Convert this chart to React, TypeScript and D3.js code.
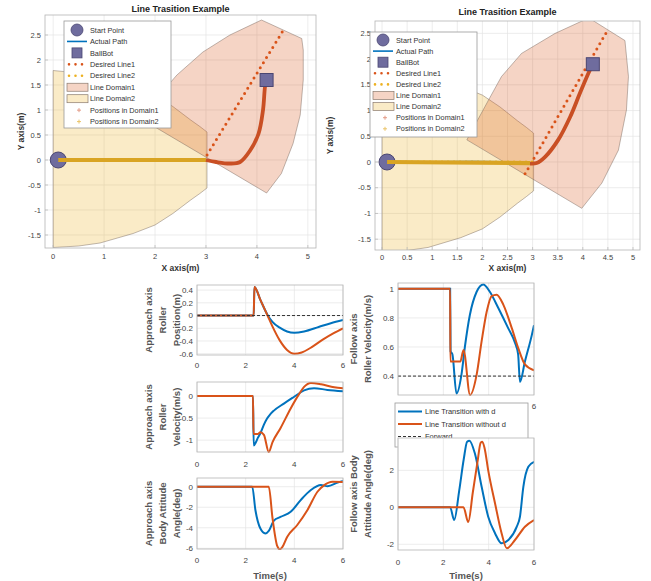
import React from "react";
import * as d3 from "d3";

type Pt = [number, number];

const FONT = "'Liberation Sans', Arial, Helvetica, sans-serif";

// ---------------- top plots ----------------
const topTitle = "Line Trasition Example";
const legendLabels = [
  "Start Point",
  "Actual Path",
  "BallBot",
  "Desired Line1",
  "Desired Line2",
  "Line Domain1",
  "Line Domain2",
  "Positions in Domain1",
  "Positions in Domain2",
];
const xTicksLeft = [0, 1, 2, 3, 4, 5];
const xTicksRight = [0, 0.5, 1, 1.5, 2, 2.5, 3, 3.5, 4, 4.5, 5];
const yTicksTop = [-1.5, -1, -0.5, 0, 0.5, 1, 1.5, 2, 2.5];

const domain2Poly: Pt[] = [
  [0, -1.75], [0, 1.79], [0.5, 1.74], [0.92, 1.66], [1.57, 1.47], [2.0, 1.3],
  [2.35, 1.07], [2.7, 0.8], [2.88, 0.67], [3.02, 0.56], [3.02, -0.56],
  [2.88, -0.67], [2.7, -0.8], [2.35, -1.07], [2.0, -1.3], [1.57, -1.47],
  [0.92, -1.66], [0.5, -1.72],
];
const domain1Left: Pt[] = [
  [4.19, -0.66], [4.48, -0.27], [4.71, 0.33], [4.85, 0.9], [4.91, 1.6],
  [4.91, 2.2], [4.88, 2.43], [4.09, 2.8], [3.47, 2.5], [2.94, 2.16],
  [2.43, 1.7], [2.01, 1.21], [1.8, 0.78],
];
const domain1Right: Pt[] = [
  [3.98, -0.9], [4.38, -0.41], [4.71, 0.23], [4.87, 1.01], [4.91, 1.66],
  [4.84, 2.36], [4.12, 2.8], [3.45, 2.5], [2.78, 2.11], [2.38, 1.66],
  [2.12, 1.2], [1.69, 0.43],
];
const desiredLine1Left: Pt[] = [[2.96, 0], [4.55, 2.65]];
const desiredLine1Right: Pt[] = [[2.85, -0.23], [4.5, 2.57]];
const desiredLine2: Pt[] = [[0, 0], [3, 0]];
const positionsD2Left: Pt[] = [[0.1, 0], [3.0, 0]];
const positionsD1Left: Pt[] = [
  [3.0, 0.0], [3.2, -0.04], [3.47, -0.07], [3.67, -0.04], [3.86, 0.18],
  [4.03, 0.52], [4.12, 1.0], [4.16, 1.47], [4.19, 1.6],
];
const positionsD2Right: Pt[] = [[0.1, 0], [2.95, -0.02]];
const positionsD1Right: Pt[] = [
  [2.95, -0.03], [3.08, -0.02], [3.25, 0.1], [3.51, 0.43], [3.75, 0.88],
  [3.94, 1.33], [4.11, 1.72], [4.2, 1.9],
];
const startPoint: Pt = [0.1, 0];
const ballbotLeft: Pt = [4.19, 1.6];
const ballbotRight: Pt = [4.2, 1.9];

// ---------------- bottom plots ----------------
const timeTicks = [0, 2, 4, 6];
const followVelTimeTicks = [6]; // the others are hidden under the legend
const approachPosWith: Pt[] = [
  [0, 0], [2.33, 0], [2.36, 0.45], [2.6, 0.25], [2.9, 0.01], [3.1, -0.1],
  [3.4, -0.19], [3.7, -0.25], [4.0, -0.27], [4.4, -0.25], [5.0, -0.18],
  [5.5, -0.12], [6.0, -0.07],
];
const approachPosWithout: Pt[] = [
  [0, 0], [2.33, 0], [2.36, 0.45], [2.6, 0.25], [2.9, 0.0], [3.1, -0.17],
  [3.4, -0.39], [3.7, -0.54], [4.0, -0.6], [4.3, -0.58], [4.7, -0.5],
  [5.2, -0.37], [5.6, -0.28], [6.0, -0.2],
];
const approachVelWith: Pt[] = [
  [0, 0], [2.3, 0], [2.33, -1.12], [2.42, -1.05], [2.5, -0.95], [2.6, -0.85],
  [2.75, -0.65], [2.88, -0.51], [3.0, -0.42], [3.16, -0.33], [3.57, -0.17],
  [3.98, -0.02], [4.4, 0.13], [4.81, 0.18], [5.36, 0.14], [6, 0.11],
];
const approachVelWithout: Pt[] = [
  [0, 0], [2.3, 0], [2.32, -0.86], [2.5, -0.86], [2.6, -0.82], [2.75, -0.88],
  [2.95, -1.27], [3.1, -1.05], [3.43, -0.73], [3.85, -0.28], [4.2, 0.05],
  [4.4, 0.21], [4.68, 0.3], [5.1, 0.27], [5.64, 0.2], [6, 0.18],
];
const approachAttWith: Pt[] = [
  [0, 0], [2.27, 0], [2.4, -2.27], [2.6, -4.05], [2.81, -4.55], [2.95, -4.3],
  [3.16, -3.3], [3.43, -2.95], [3.85, -2.45], [4.26, -1.3], [4.68, -0.32],
  [5.09, 0.17], [5.37, 0.05], [5.78, 0.4], [6, 0.55],
];
const approachAttWithout: Pt[] = [
  [0, 0], [2.95, 0], [3.1, -3.0], [3.3, -5.8], [3.4, -6.1], [3.5, -5.9],
  [3.71, -4.87], [4.12, -3.73], [4.54, -2.27], [4.95, -0.49], [5.23, 0.16],
  [5.57, 0.49], [6, 0.45],
];
const followVelWith: Pt[] = [
  [0, 1], [2.3, 1], [2.32, 0.57], [2.4, 0.55], [2.58, 0.28], [2.8, 0.41],
  [2.95, 0.6], [3.17, 0.82], [3.47, 0.98], [3.76, 1.03], [4.05, 0.98],
  [4.42, 0.87], [4.86, 0.73], [5.16, 0.63], [5.3, 0.55], [5.38, 0.36],
  [5.6, 0.5], [5.9, 0.68], [6, 0.75],
];
const followVelWithout: Pt[] = [
  [0, 1], [2.3, 1], [2.31, 0.5], [2.75, 0.5], [2.89, 0.58], [3.18, 0.27],
  [3.47, 0.41], [3.69, 0.64], [3.91, 0.84], [4.13, 0.95], [4.35, 0.96],
  [4.65, 0.89], [5.02, 0.73], [5.31, 0.59], [5.6, 0.48], [6, 0.44],
];
const followAttWith: Pt[] = [
  [0, 0], [2.3, 0], [2.48, -0.69], [2.7, 0.9], [2.9, 2.6], [3.05, 3.55],
  [3.15, 3.6], [3.39, 2.92], [3.69, 1.11], [3.98, -0.51], [4.28, -1.4],
  [4.57, -1.95], [4.87, -1.77], [5.24, -1.05], [5.38, -0.51], [5.53, 1.11],
  [5.75, 2.19], [6, 2.46],
];
const followAttWithout: Pt[] = [
  [0, 0], [2.89, 0], [3.1, -0.8], [3.3, 0.8], [3.5, 2.4], [3.65, 3.5],
  [3.72, 3.55], [3.82, 3.2], [3.98, 2.0], [4.28, 0.22], [4.57, -1.4],
  [4.8, -2.22], [5.16, -1.77], [5.6, -1.05], [6, -0.69],
];
const approachPosRef: Pt[] = [[0, 0], [6, 0]];
const followVelRef: Pt[] = [[0, 0.4], [6, 0.4]];
const bottomLegend = ["Line Transition with d", "Line Transition without d", "Forward"];

const BLUE = "#0072BD";
const ORANGE = "#D95319";
const YELLOW = "#EDB120";
const PURPLE = "#6f6c9e";
const PURPLE_EDGE = "#4a4672";
const TICK = "#444";
const GRID = "#e4e4e4";
const BOX = "#b4b4b4";

interface TopCfg {
  id: string;
  l: number; r: number; t: number; b: number;
  xDom: [number, number]; yDom: [number, number];
  xTicks: number[];
  domain1: Pt[]; line1: Pt[]; posD2: Pt[]; posD1: Pt[]; ballbot: Pt;
  leg: { x: number; y: number; w: number; h: number; y0: number; dy: number };
  titleY: number; xlabY: number; ylabX: number; xtY: number;
}

function TopPlot({ c }: { c: TopCfg }) {
  const x = d3.scaleLinear().domain(c.xDom).range([c.l, c.r]);
  const y = d3.scaleLinear().domain(c.yDom).range([c.b, c.t]);
  const poly = (p: Pt[]) => "M" + p.map((d) => `${x(d[0])},${y(d[1])}`).join("L") + "Z";
  const ln = d3.line<Pt>().x((d) => x(d[0])).y((d) => y(d[1]));
  const sm = d3.line<Pt>().x((d) => x(d[0])).y((d) => y(d[1])).curve(d3.curveCatmullRom);
  const actual: Pt[] = [...c.posD2, ...c.posD1];
  const cx = (c.l + c.r) / 2;
  const cy = (c.t + c.b) / 2;
  const L = c.leg;
  const ix = L.x + 3;
  return (
    <g>
      <defs>
        <clipPath id={c.id}>
          <rect x={c.l} y={c.t} width={c.r - c.l} height={c.b - c.t} />
        </clipPath>
      </defs>
      <rect x={c.l} y={c.t} width={c.r - c.l} height={c.b - c.t} fill="#fff" />
      {c.xTicks.map((v) => (
        <line key={"gx" + v} x1={x(v)} x2={x(v)} y1={c.t} y2={c.b} stroke={GRID} strokeWidth={0.7} />
      ))}
      {yTicksTop.map((v) => (
        <line key={"gy" + v} x1={c.l} x2={c.r} y1={y(v)} y2={y(v)} stroke={GRID} strokeWidth={0.7} />
      ))}
      <g clipPath={`url(#${c.id})`}>
        <path d={poly(domain2Poly)} fill={YELLOW} fillOpacity={0.25} stroke="#6e5f55" strokeOpacity={0.55} strokeWidth={0.8} />
        <path d={poly(c.domain1)} fill={ORANGE} fillOpacity={0.25} stroke="#6e5f55" strokeOpacity={0.55} strokeWidth={0.8} />
        <path d={ln(desiredLine2) || ""} fill="none" stroke={YELLOW} strokeWidth={3} strokeDasharray="0 6" strokeLinecap="round" />
        <path d={ln(c.line1) || ""} fill="none" stroke={ORANGE} strokeWidth={3} strokeDasharray="0 6" strokeLinecap="round" />
        <circle cx={x(startPoint[0])} cy={y(startPoint[1])} r={8} fill={PURPLE} stroke={PURPLE_EDGE} strokeWidth={1} />
        <path d={sm(actual) || ""} fill="none" stroke={BLUE} strokeWidth={1.2} />
        <path d={ln(c.posD2) || ""} fill="none" stroke="#d9a423" strokeWidth={4.2} />
        <path d={sm(c.posD1) || ""} fill="none" stroke="#c94f24" strokeWidth={3.8} />
        <rect x={x(c.ballbot[0]) - 6.5} y={y(c.ballbot[1]) - 6.5} width={13} height={13} fill={PURPLE} stroke={PURPLE_EDGE} strokeWidth={1} />
      </g>
      <rect x={c.l} y={c.t} width={c.r - c.l} height={c.b - c.t} fill="none" stroke={BOX} strokeWidth={0.8} />
      {c.xTicks.map((v) => (
        <g key={"tx" + v}>
          <line x1={x(v)} x2={x(v)} y1={c.b} y2={c.b - 3} stroke={BOX} strokeWidth={0.7} />
          <text x={x(v)} y={c.xtY} fontSize={7.5} fill={TICK} textAnchor="middle" fontFamily={FONT}>{String(v)}</text>
        </g>
      ))}
      {yTicksTop.map((v) => (
        <g key={"ty" + v}>
          <line x1={c.l} x2={c.l + 3} y1={y(v)} y2={y(v)} stroke={BOX} strokeWidth={0.7} />
          <text x={c.l - 4} y={y(v) + 2.6} fontSize={7.5} fill={TICK} textAnchor="end" fontFamily={FONT}>{String(v)}</text>
        </g>
      ))}
      <text x={cx} y={c.titleY} fontSize={9} fontWeight="bold" textAnchor="middle" fill="#222" fontFamily={FONT}>{topTitle}</text>
      <text x={cx} y={c.xlabY} fontSize={8.5} fontWeight="bold" textAnchor="middle" fill="#333" fontFamily={FONT}>X axis(m)</text>
      <text transform={`translate(${c.ylabX},${cy}) rotate(-90)`} fontSize={8.5} fontWeight="bold" textAnchor="middle" fill="#333" fontFamily={FONT}>Y axis(m)</text>
      {/* legend */}
      <rect x={L.x} y={L.y} width={L.w} height={L.h} fill="#fff" stroke="#9a9a9a" strokeWidth={0.8} />
      {legendLabels.map((lab, i) => {
        const ey = L.y0 + i * L.dy;
        let icon: React.ReactNode = null;
        if (i === 0) icon = <circle cx={ix + 10} cy={ey} r={6} fill={PURPLE} stroke={PURPLE_EDGE} strokeWidth={0.8} />;
        else if (i === 1) icon = <line x1={ix} x2={ix + 20} y1={ey} y2={ey} stroke={BLUE} strokeWidth={1.6} />;
        else if (i === 2) icon = <rect x={ix + 5} y={ey - 5} width={10} height={10} fill={PURPLE} stroke={PURPLE_EDGE} strokeWidth={0.8} />;
        else if (i === 3 || i === 4)
          icon = <line x1={ix + 2} x2={ix + 18} y1={ey} y2={ey} stroke={i === 3 ? ORANGE : YELLOW} strokeWidth={2.6} strokeDasharray="0 6.5" strokeLinecap="round" />;
        else if (i === 5 || i === 6)
          icon = <rect x={ix} y={ey - 4} width={21} height={8} fill={i === 5 ? ORANGE : YELLOW} fillOpacity={0.25} stroke="#8a7a6e" strokeWidth={0.7} />;
        else
          icon = (
            <g stroke={i === 7 ? "#e39a86" : "#eac468"} strokeWidth={1}>
              <line x1={ix + 10} x2={ix + 14} y1={ey} y2={ey} />
              <line x1={ix + 12} x2={ix + 12} y1={ey - 2} y2={ey + 2} />
            </g>
          );
        return (
          <g key={lab}>
            {icon}
            <text x={L.x + 26} y={ey + 2.6} fontSize={7.3} fill="#333" fontFamily={FONT}>{lab}</text>
          </g>
        );
      })}
    </g>
  );
}

interface BotCfg {
  id: string;
  l: number; r: number; t: number; b: number;
  yDom: [number, number]; yTicks: number[];
  a: Pt[]; o: Pt[]; ref?: Pt[];
  xtY: number; xtLabels: number[];
  ylab: string[]; ylabX: number[];
}

function BotPlot({ c }: { c: BotCfg }) {
  const x = d3.scaleLinear().domain([0, 6]).range([c.l, c.r]);
  const y = d3.scaleLinear().domain(c.yDom).range([c.b, c.t]);
  const sm = d3.line<Pt>().x((d) => x(d[0])).y((d) => y(d[1])).curve(d3.curveMonotoneX);
  const ln = d3.line<Pt>().x((d) => x(d[0])).y((d) => y(d[1]));
  const cy = (c.t + c.b) / 2;
  return (
    <g>
      <defs>
        <clipPath id={c.id}>
          <rect x={c.l} y={c.t - 1} width={c.r - c.l} height={c.b - c.t + 2} />
        </clipPath>
      </defs>
      <rect x={c.l} y={c.t} width={c.r - c.l} height={c.b - c.t} fill="#fff" />
      {timeTicks.map((v) => (
        <line key={"gx" + v} x1={x(v)} x2={x(v)} y1={c.t} y2={c.b} stroke={GRID} strokeWidth={0.7} />
      ))}
      {c.yTicks.map((v) => (
        <line key={"gy" + v} x1={c.l} x2={c.r} y1={y(v)} y2={y(v)} stroke={GRID} strokeWidth={0.7} />
      ))}
      <g clipPath={`url(#${c.id})`}>
        <path d={sm(c.a) || ""} fill="none" stroke={BLUE} strokeWidth={2} />
        <path d={sm(c.o) || ""} fill="none" stroke={ORANGE} strokeWidth={2} />
        {c.ref && <path d={ln(c.ref) || ""} fill="none" stroke="#333" strokeWidth={1} strokeDasharray="3 2" />}
      </g>
      <rect x={c.l} y={c.t} width={c.r - c.l} height={c.b - c.t} fill="none" stroke={BOX} strokeWidth={0.8} />
      {c.xtLabels.map((v) => (
        <text key={"tx" + v} x={x(v)} y={c.xtY} fontSize={8} fill={TICK} textAnchor="middle" fontFamily={FONT}>{String(v)}</text>
      ))}
      {c.yTicks.map((v) => (
        <text key={"ty" + v} x={c.l - 4} y={y(v) + 2.8} fontSize={8} fill={TICK} textAnchor="end" fontFamily={FONT}>{String(v)}</text>
      ))}
      {c.ylab.map((s, i) => (
        <text key={s} transform={`translate(${c.ylabX[i]},${cy}) rotate(-90)`} fontSize={9.5} fontWeight="bold" textAnchor="middle" dominantBaseline="central" fill="#555" fontFamily={FONT}>{s}</text>
      ))}
    </g>
  );
}

const topLeft: TopCfg = {
  id: "ctl", l: 45, r: 316, t: 15, b: 248, xDom: [-0.16, 5.16], yDom: [-1.76, 2.9],
  xTicks: xTicksLeft, domain1: domain1Left, line1: desiredLine1Left,
  posD2: positionsD2Left, posD1: positionsD1Left, ballbot: ballbotLeft,
  leg: { x: 64, y: 21, w: 107, h: 107, y0: 30, dy: 11.45 },
  titleY: 12, xlabY: 271, ylabX: 24, xtY: 259,
};
const topRight: TopCfg = {
  id: "ctr", l: 375, r: 640, t: 21, b: 250, xDom: [-0.14, 5.14], yDom: [-1.71, 2.74],
  xTicks: xTicksRight, domain1: domain1Right, line1: desiredLine1Right,
  posD2: positionsD2Right, posD1: positionsD1Right, ballbot: ballbotRight,
  leg: { x: 370, y: 32, w: 107, h: 105, y0: 40, dy: 11.1 },
  titleY: 15, xlabY: 271, ylabX: 333, xtY: 259.5,
};

const plotA: BotCfg = {
  id: "cA", l: 197, r: 343, t: 285, b: 355, yDom: [-0.62, 0.48],
  yTicks: [-0.6, -0.4, -0.2, 0, 0.2, 0.4], a: approachPosWith, o: approachPosWithout,
  ref: approachPosRef, xtY: 368, xtLabels: timeTicks,
  ylab: ["Approach axis", "Roller", "Position(m)"], ylabX: [148, 162, 176],
};
const plotB: BotCfg = {
  id: "cB", l: 197, r: 343, t: 382, b: 452, yDom: [-1.27, 0.32],
  yTicks: [-1, -0.5, 0], a: approachVelWith, o: approachVelWithout,
  xtY: 467, xtLabels: timeTicks,
  ylab: ["Approach axis", "Roller", "Velocity(m/s)"], ylabX: [148, 162, 176],
};
const plotC: BotCfg = {
  id: "cC", l: 197, r: 343, t: 478, b: 549, yDom: [-6.07, 0.85],
  yTicks: [-6, -4, -2, 0], a: approachAttWith, o: approachAttWithout,
  xtY: 563, xtLabels: timeTicks,
  ylab: ["Approach axis", "Body Attitude", "Angle(deg)"], ylabX: [148, 162, 176],
};
const plotD: BotCfg = {
  id: "cD", l: 398, r: 534, t: 283, b: 395, yDom: [0.27, 1.04],
  yTicks: [0.4, 0.6, 0.8, 1], a: followVelWith, o: followVelWithout,
  ref: followVelRef, xtY: 409, xtLabels: followVelTimeTicks,
  ylab: ["Follow axis", "Roller Velocity(m/s)"], ylabX: [353, 367],
};
const plotE: BotCfg = {
  id: "cE", l: 398, r: 534, t: 438, b: 550, yDom: [-2.31, 3.75],
  yTicks: [-2, 0, 2], a: followAttWith, o: followAttWithout,
  xtY: 565, xtLabels: timeTicks,
  ylab: ["Follow axis Body", "Attitude Angle(deg)"], ylabX: [353, 367],
};

export default function App() {
  const legX = 395;
  const legY = 403;
  const legColors = [BLUE, ORANGE, "#333"];
  return (
    <svg width={651} height={581} style={{ position: "absolute", left: 0, top: 0, background: "#fff" }} fontFamily={FONT}>
      <rect x={0} y={0} width={651} height={581} fill="#fff" />
      <TopPlot c={topLeft} />
      <TopPlot c={topRight} />
      <BotPlot c={plotA} />
      <BotPlot c={plotB} />
      <BotPlot c={plotC} />
      <text x={270} y={579} fontSize={9.5} fontWeight="bold" textAnchor="middle" fill="#555">Time(s)</text>
      <defs>
        <clipPath id="rightCol">
          <rect x={340} y={275} width={197} height={306} />
        </clipPath>
      </defs>
      <g clipPath="url(#rightCol)">
        <BotPlot c={plotD} />
        <rect x={legX} y={legY} width={133} height={44} fill="#fff" stroke="#9a9a9a" strokeWidth={0.8} />
        {bottomLegend.map((s, i) => {
          const ey = legY + 8.5 + i * 12.5;
          return (
            <g key={s}>
              <line x1={legX + 3} x2={legX + 27} y1={ey} y2={ey} stroke={legColors[i]} strokeWidth={i < 2 ? 2 : 1} strokeDasharray={i === 2 ? "3 2" : undefined} />
              <text x={legX + 30} y={ey + 2.6} fontSize={7.5} fill="#333">{s}</text>
            </g>
          );
        })}
        <BotPlot c={plotE} />
        <text x={466} y={579} fontSize={9.5} fontWeight="bold" textAnchor="middle" fill="#555">Time(s)</text>
      </g>
    </svg>
  );
}
